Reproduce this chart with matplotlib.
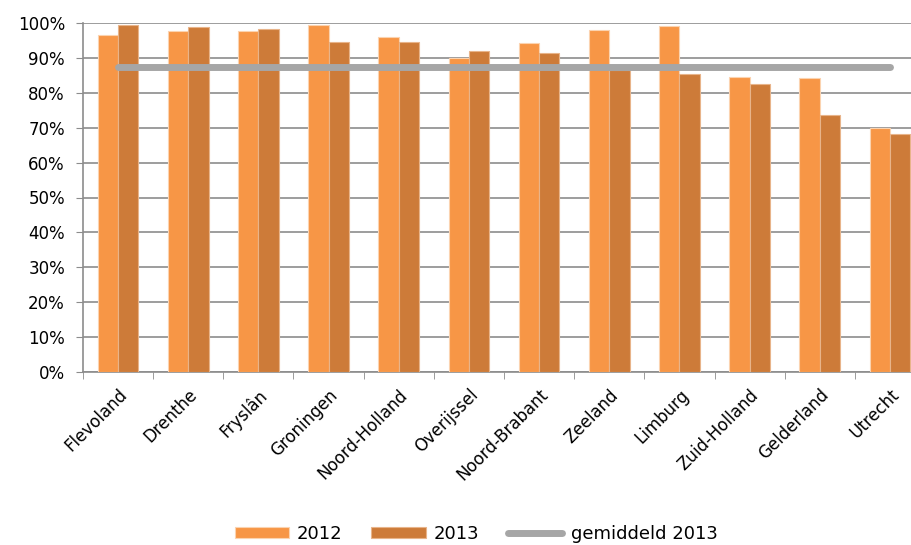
import numpy as np
import matplotlib.pyplot as plt
from matplotlib.ticker import PercentFormatter, FixedLocator

plt.rcParams['font.family'] = ['DejaVu Sans']

provinces = ["Flevoland", "Drenthe", "Fryslân", "Groningen", "Noord-Holland", "Overijssel",
             "Noord-Brabant", "Zeeland", "Limburg", "Zuid-Holland", "Gelderland", "Utrecht"]
vals_2012 = [96.6, 97.8, 97.8, 99.4, 96.0, 90.1, 94.2, 97.9, 99.1, 84.5, 84.3, 69.9]
vals_2013 = [99.4, 98.8, 98.3, 94.6, 94.6, 91.9, 91.5, 86.5, 85.3, 82.4, 73.6, 68.2]
avg_2013 = 87.3

c2012 = "#F79646"
c2013 = "#CD7B39"
grid_c = "#8C8C8C"

fig = plt.figure(figsize=(9.12, 5.45), dpi=100)
ax = fig.add_axes([83 / 912, 1 - 372 / 545, 842 / 912, 349 / 545])

x = np.arange(len(provinces))
w = 0.29
b1 = ax.bar(x - w / 2, vals_2012, w, color=c2012, edgecolor="#FBD3B0", linewidth=0.8, label="2012", zorder=3)
b2 = ax.bar(x + w / 2, vals_2013, w, color=c2013, edgecolor="#E8B48A", linewidth=0.8, label="2013", zorder=3)
ln, = ax.plot(x, [avg_2013] * len(x), color="#A6A6A6", linewidth=5, solid_capstyle="round",
              label="gemiddeld 2013", zorder=4)

ax.set_xlim(-0.5, len(provinces) - 0.5)
ax.set_ylim(0, 100)
ax.set_yticks(np.arange(0, 101, 10))
ax.yaxis.set_major_formatter(PercentFormatter(decimals=0))
ax.yaxis.grid(True, color=grid_c, linewidth=1.2, zorder=0)
ax.set_axisbelow(True)

ax.set_xticks(x)
ax.set_xticklabels(provinces, rotation=45, ha="right", rotation_mode="anchor", fontsize=12)
ax.tick_params(axis="x", length=0, pad=10)
ax.xaxis.set_minor_locator(FixedLocator(np.arange(-0.5, len(provinces), 1)))
ax.tick_params(axis="x", which="minor", length=5, color=grid_c)
ax.tick_params(axis="y", length=5, color=grid_c, labelsize=12, pad=8)

for s in ["top", "right"]:
    ax.spines[s].set_visible(False)
ax.spines["left"].set_color(grid_c)
ax.spines["bottom"].set_color(grid_c)
ax.spines["left"].set_linewidth(1.2)
ax.spines["bottom"].set_linewidth(1.2)

fig.legend([b1, b2, ln], ["2012", "2013", "gemiddeld 2013"], loc="lower center",
           bbox_to_anchor=(0.522, -0.026), ncol=3, frameon=False,
           fontsize=13, handlelength=3.0, handleheight=0.55, handletextpad=0.45,
           columnspacing=1.6)

fig.savefig("out.png", dpi=100)
